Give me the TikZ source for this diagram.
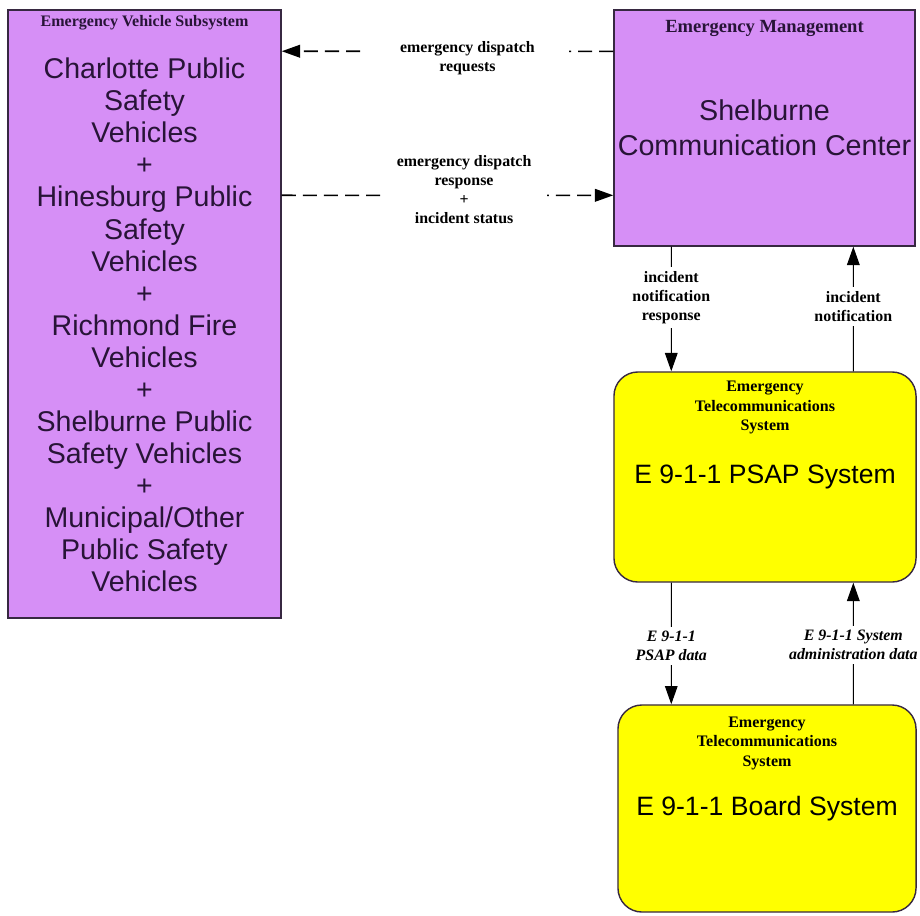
\documentclass[tikz,border=0pt]{standalone}
\usepackage{fontspec}
\setmainfont{Liberation Serif}
\setsansfont{Liberation Sans}
\usetikzlibrary{arrows.meta,positioning}
\definecolor{lila}{RGB}{214,143,246}
\definecolor{amarillo}{RGB}{255,255,0}
\definecolor{borde}{RGB}{55,40,65}
\definecolor{tinta}{RGB}{40,20,55}
\begin{document}
\begin{tikzpicture}[x=0.025cm, y=-0.025cm,
  caja/.style={draw=borde, line width=1pt, inner sep=0pt, align=center, text=tinta},
  morada/.style={caja, fill=lila},
  amarilla/.style={caja, fill=amarillo, rounded corners=0.6cm, text=black},
  grande/.style={font=\sffamily\fontsize{20.3}{22.8}\selectfont},
  cabecera/.style={inner sep=0pt, align=center, font=\bfseries\fontsize{11.4}{14.2}\selectfont},
  etiqueta/.style={fill=white, inner xsep=2pt, inner ysep=3pt, align=center, anchor=center, font=\bfseries\fontsize{11.3}{13.5}\selectfont},
  flujo/.style={-{Triangle[length=13pt,width=9pt]}, line width=0.7pt, black},
  trazos/.style={dash pattern=on 10pt off 5pt, line width=1.1pt}]
\useasboundingbox (0,0) rectangle (920,915);
% Nodos
\node [morada, grande, minimum width=6.825cm, minimum height=15.2cm] (evs) at (144.5,314)
  {\rule{0pt}{30.4pt}Charlotte Public\\Safety\\Vehicles\\+\\Hinesburg Public\\Safety\\Vehicles\\+\\Richmond Fire\\Vehicles\\+\\Shelburne Public\\Safety Vehicles\\+\\Municipal/Other\\Public Safety\\Vehicles};
\node [cabecera, text=tinta, below=4.2pt of evs.north] (evsT) {Emergency Vehicle Subsystem};

\node [morada, font=\sffamily\fontsize{20.4}{24.9}\selectfont, minimum width=7.525cm, minimum height=5.9cm] (ecc) at (764.5,128)
  {Shelburne\\Communication Center};
\node [cabecera, text=tinta, font=\bfseries\fontsize{13.2}{15}\selectfont, below=7.5pt of ecc.north] (eccT) {Emergency Management};

\node [amarilla, font=\sffamily\fontsize{18.9}{22}\selectfont, minimum width=7.55cm, minimum height=5.25cm] (psap) at (765,477)
  {E 9-1-1 PSAP System};
\node [cabecera, below=6.4pt of psap.north] (psapT) {Emergency\\Telecommunications\\System};

\node [amarilla, font=\sffamily\fontsize{18.9}{22}\selectfont, minimum width=7.45cm, minimum height=5.175cm] (board) at (767,808.5)
  {E 9-1-1 Board System};
\node [cabecera, below=8.5pt of board.north] (boardT) {Emergency\\Telecommunications\\System};
% Flujos
% ---
% evs <-> ecc
% ---
\path ([yshift=-1.05cm]ecc.north west) edge [flujo, trazos] node [etiqueta, inner xsep=0.85cm, pos=0.44, yshift=-0.18cm] {emergency dispatch\\requests} ([yshift=-1.05cm]evs.north east);

\path ([yshift=-4.65cm]evs.north east) edge [flujo, trazos] node [etiqueta, inner xsep=0.4cm, pos=0.55, yshift=0.15cm] {emergency dispatch\\response\\+\\incident status} ([yshift=-4.65cm]ecc.north west);
% ---
% ecc <-> psap
% ---
\path ([xshift=1.45cm]ecc.south west) edge [flujo] node [etiqueta, pos=0.41] {incident\\notification\\response} ([xshift=1.45cm]psap.north west);

\path ([xshift=6cm]psap.north west) edge [flujo] node [etiqueta, pos=0.52] {incident\\notification} ([xshift=6cm]ecc.south west);
% ---
% psap <-> board
% ---
\path ([xshift=1.45cm]psap.south west) edge [flujo] node [etiqueta, pos=0.52, font=\bfseries\itshape\fontsize{11.3}{13.5}\selectfont] {E 9-1-1\\PSAP data} ([xshift=1.35cm]board.north west);

\path ([xshift=5.9cm]board.north west) edge [flujo] node [etiqueta, pos=0.49, font=\bfseries\itshape\fontsize{11.3}{13.5}\selectfont] {E 9-1-1 System\\administration data} ([xshift=6cm]psap.south west);
\end{tikzpicture}
\end{document}
